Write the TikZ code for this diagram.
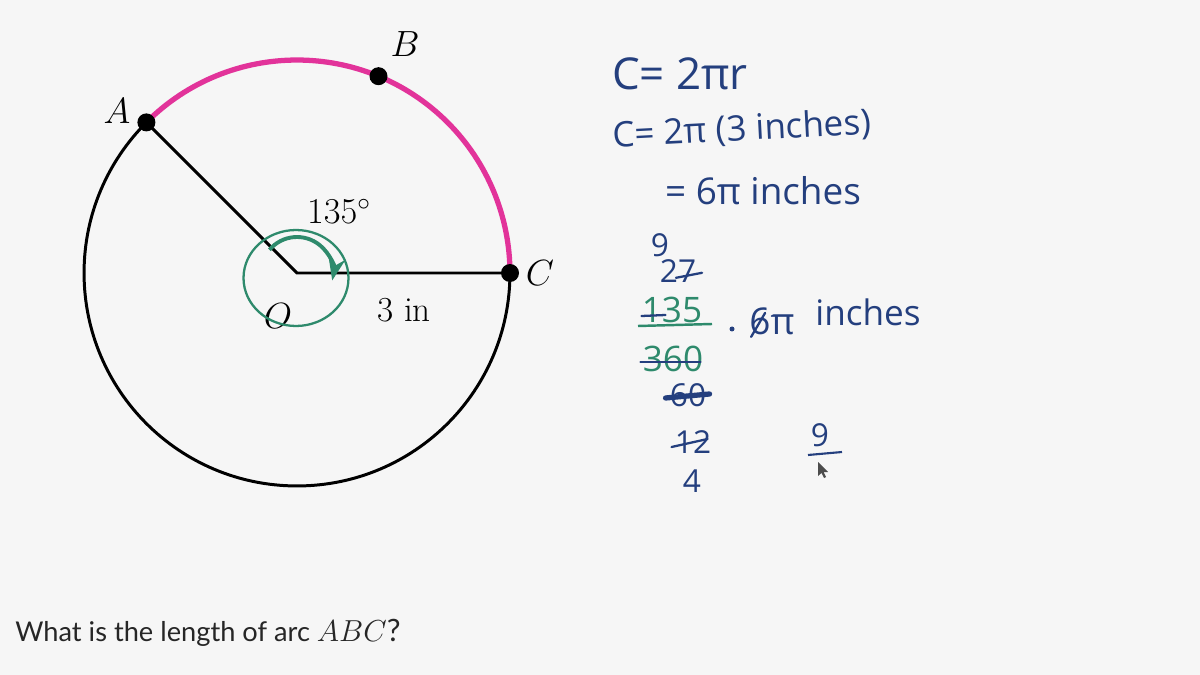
\documentclass[tikz,border=0pt]{standalone}
\usepackage{fontspec}
\newfontfamily\handfont{Open Sans}
\newfontfamily\askfont{Lato}
\usetikzlibrary{arrows.meta}

\definecolor{paper}{HTML}{F6F6F6}
\definecolor{inkblue}{HTML}{243F7E}
\definecolor{inkgreen}{HTML}{2E8A6C}
\definecolor{arcpink}{HTML}{E2339A}

\begin{document}
\begin{tikzpicture}[
		x=0.02cm,y=-0.02cm,
		>=Stealth,
		pt/.style={circle,fill=black,inner sep=0pt,minimum size=0.36cm},
		lbl/.style={font=\fontsize{20}{24}\selectfont,inner sep=0pt},
		hand/.style={font=\handfont\fontsize{21}{25}\selectfont,text=inkblue,inner sep=0pt},
		small/.style={font=\handfont\fontsize{18}{20}\selectfont},
		handg/.style={hand,font=\handfont\fontsize{20}{22}\selectfont,text=inkgreen},
		strike/.style={inkblue,line width=1.3pt,line cap=round}
		]
		\fill[paper] (0,0) rectangle (1200,675);
		\useasboundingbox (0,0) rectangle (1200,675);
		
		% circle and radii
		\coordinate (O) at (297,273);
		\coordinate (A) at (146.4,122.4);
		\coordinate (B) at (378.5,76.2);
		\coordinate (C) at (510,273);
		\draw[line width=1.7pt] (O) circle[radius=4.26cm];
		\draw[arcpink,line width=3pt,line cap=round] (A) arc[start angle=135,end angle=0,radius=4.26cm];
		\draw[line width=1.7pt] (A) -- (O) -- (C);
		\node[pt] (pA) at (A) {};
		\node[pt] (pB) at (B) {};
		\node[pt] (pC) at (C) {};
		\node[lbl] (lA) at (117,111) {$A$};
		\node[lbl] (lB) at (405,44) {$B$};
		\node[lbl] (lC) at (540,273) {$C$};
		\node[lbl] (lO) at (278,316) {$O$};
		\node[lbl] (ang) at (339,211) {$135^\circ$};
		\node[lbl] (rad) at (404,310) {3 in};
		
		% green marks round O
		\draw[inkgreen,line width=1.3pt] (296,278) ellipse[x radius=1.05cm,y radius=0.96cm];
		\draw[inkgreen,line width=2.2pt,->] (O) ++(140:0.72cm) arc[start angle=140,end angle=-12,radius=0.72cm];
		
		% notes
		\node[hand,font=\handfont\fontsize{25}{30}\selectfont] (c1) at (680,74) {C= 2πr};
		\node[hand,font=\handfont\fontsize{20}{24}\selectfont,rotate=3] (c2) at (742,130) {C= 2π (3 inches)};
		\node[hand] (c3) at (763,191) {= 6π inches};
		\node[hand,small] (n9) at (660,245) {9};
		\node[hand,small] (n27) at (678,271) {27};
		\node[handg] (n135) at (672,310) {135};
		\node[handg] (n360) at (673,359) {360};
		\node[hand,small] (n60) at (688,395) {60};
		\node[hand,small] (n12) at (693,442) {12};
		\node[hand,small] (n4) at (692,481) {4};
		\node[hand] (six) at (772,321) {6π};
		\node[hand,font=\handfont\fontsize{20}{24}\selectfont] (inch) at (868,312) {inches};
		\node[hand,small] (r9) at (820,435) {9};
		\fill[inkblue] (732,329) circle[radius=0.05cm];
		\draw[inkgreen,line width=1.4pt] (638,326) -- (712,324);
		\draw[inkblue,line width=1.2pt] (808,455) -- (842,452);
		% strike-throughs
		\draw[strike] (n27.south) ++(-2,-5) -- ++(26,-5);
		\draw[strike] (n135.west) ++(0,6) -- ++(24,-1);
		\draw[strike] (n360.west) ++(-2,3) -- ++(60,0);
		\draw[strike,line width=3pt] (n60.west) ++(-4,3) -- ++(44,-4);
		\draw[strike] (n12.west) ++(-3,5) -- ++(36,-8);
		\draw[strike] (six.south west) ++(2,2) -- ++(14,-24);
		% mouse pointer
		\fill[black!70] (818,462) -- (818,476) -- (821.5,473) -- (824,478) -- (826,477) -- (823.5,472) -- (828,472) -- cycle;
		
		\node[anchor=west,font=\askfont\fontsize{15.5}{18}\selectfont,text=black!85,inner sep=0pt] (ask) at (15,633) {What is the length of arc \fontsize{17.5}{20}\selectfont$ABC$?};
		
\end{tikzpicture}
\end{document}
